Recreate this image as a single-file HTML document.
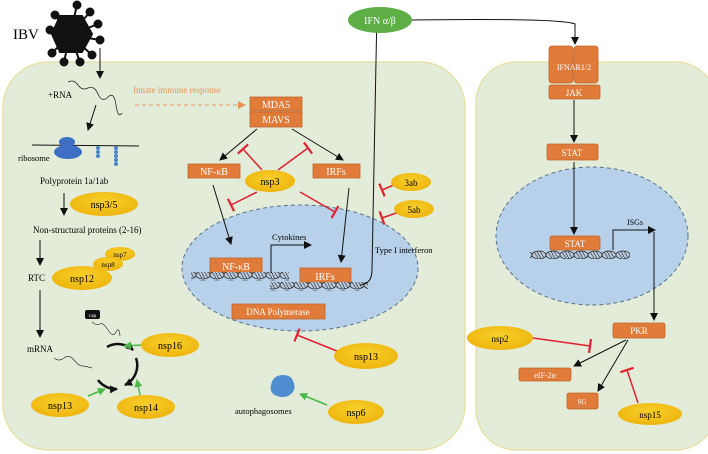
<!DOCTYPE html>
<html><head><meta charset="utf-8"><style>
html,body{margin:0;padding:0;background:#fff;}
svg{display:block;font-family:"Liberation Serif",serif;}
</style></head><body>
<svg width="708" height="454" viewBox="0 0 708 454" xmlns="http://www.w3.org/2000/svg">
<defs>
<marker id="ab" markerWidth="8" markerHeight="8" refX="7" refY="4" orient="auto" markerUnits="userSpaceOnUse"><path d="M0,0 L8,4 L0,8 z" fill="#111"/></marker>
<marker id="ag" markerWidth="8" markerHeight="8" refX="7" refY="4" orient="auto" markerUnits="userSpaceOnUse"><path d="M0,0 L8,4 L0,8 z" fill="#4cb848"/></marker>
<marker id="ao" markerWidth="8" markerHeight="8" refX="7" refY="4" orient="auto" markerUnits="userSpaceOnUse"><path d="M0,0 L8,4 L0,8 z" fill="#e8935a"/></marker>
<marker id="tr" markerWidth="4" markerHeight="14" refX="2" refY="7" orient="auto" markerUnits="userSpaceOnUse"><path d="M2,0 L2,14" stroke="#e02030" stroke-width="2.2"/></marker>
<radialGradient id="yg" cx="50%" cy="40%" r="60%"><stop offset="0" stop-color="#f8cf2a"/><stop offset="1" stop-color="#eeb50e"/></radialGradient>
<pattern id="dna" width="14" height="10" patternUnits="userSpaceOnUse"><ellipse cx="7" cy="5" rx="7" ry="4" fill="#b8c8dc" stroke="#222" stroke-width="0.8"/><path d="M2,2 L6,8 M5,1 L9,9 M8,1 L12,8" stroke="#222" stroke-width="0.6"/></pattern>
</defs>
<!-- cells -->
<rect x="3" y="62" width="462" height="388" rx="45" fill="#e3ecd9" stroke="#e8dc9e" stroke-width="1.2"/>
<rect x="476" y="62" width="240" height="388" rx="40" fill="#e3ecd9" stroke="#e8dc9e" stroke-width="1.2"/>
<!-- nuclei -->
<ellipse cx="300" cy="268" rx="118" ry="63" fill="#b7d1ea" stroke="#5a7189" stroke-width="1" stroke-dasharray="4,3"/>
<ellipse cx="592" cy="236" rx="96" ry="69" fill="#b7d1ea" stroke="#5a7189" stroke-width="1" stroke-dasharray="4,3"/>
<!-- virus -->
<g stroke="#111" stroke-width="2" fill="#111">
<line x1="70" y1="35" x2="77" y2="5"/><line x1="70" y1="35" x2="90" y2="12"/><line x1="70" y1="35" x2="98" y2="24"/><line x1="70" y1="35" x2="100" y2="40"/><line x1="70" y1="35" x2="92" y2="55"/><line x1="70" y1="35" x2="80" y2="62"/><line x1="70" y1="35" x2="64" y2="62"/><line x1="70" y1="35" x2="52" y2="53"/><line x1="70" y1="35" x2="50" y2="30"/><line x1="70" y1="35" x2="55" y2="15"/>
<circle cx="77" cy="5" r="3.5"/><circle cx="90" cy="12" r="3.5"/><circle cx="98" cy="24" r="3.5"/><circle cx="100" cy="40" r="3.5"/><circle cx="92" cy="55" r="3.5"/><circle cx="80" cy="62" r="3.5"/><circle cx="64" cy="62" r="3.5"/><circle cx="52" cy="53" r="3.5"/><circle cx="50" cy="30" r="3.5"/><circle cx="55" cy="15" r="3.5"/>
<polygon points="60,16 82,16 92,34 82,52 60,52 52,34"/>
</g>
<text x="13" y="39" font-size="15">IBV</text>
<line x1="100" y1="48" x2="100" y2="78" stroke="#111" marker-end="url(#ab)"/>
<text x="48" y="98" font-size="9">+RNA</text>
<path d="M68,82 q6,-3 10,3 t10,3 t10,6 t10,3 t8,8 t6,8" fill="none" stroke="#222" stroke-width="0.8"/>
<line x1="96" y1="105" x2="88" y2="130" stroke="#111" marker-end="url(#ab)"/>
<line x1="32" y1="145" x2="139" y2="146" stroke="#111"/>
<ellipse cx="67" cy="142" rx="8" ry="5" fill="#3f6fc4"/><ellipse cx="68" cy="152" rx="14" ry="7" fill="#3f6fc4"/>
<g fill="#4a86c8"><circle cx="98" cy="148" r="2"/><circle cx="98" cy="152" r="2"/><circle cx="98" cy="156" r="2"/><circle cx="116" cy="148" r="2"/><circle cx="116" cy="152" r="2"/><circle cx="116" cy="156" r="2"/><circle cx="116" cy="160" r="2"/><circle cx="116" cy="164" r="2"/></g>
<text x="18" y="161" font-size="8.5">ribosome</text>
<text x="40" y="184" font-size="9">Polyprotein 1a/1ab</text>
<line x1="64" y1="193" x2="64" y2="215" stroke="#111" marker-end="url(#ab)"/>
<ellipse cx="104" cy="204" rx="34" ry="12" fill="url(#yg)"/><text x="104" y="208" font-size="10" text-anchor="middle">nsp3/5</text>
<text x="33" y="233" font-size="9">Non-structural proteins (2-16)</text>
<line x1="40" y1="240" x2="40" y2="265" stroke="#111" marker-end="url(#ab)"/>
<text x="28" y="281" font-size="9">RTC</text>
<ellipse cx="120" cy="254" rx="15" ry="7" fill="url(#yg)"/><text x="120" y="257" font-size="7" text-anchor="middle">nsp7</text>
<ellipse cx="108" cy="264" rx="15" ry="7" fill="url(#yg)"/><text x="108" y="267" font-size="7" text-anchor="middle">nsp8</text>
<ellipse cx="82" cy="278" rx="30" ry="12" fill="url(#yg)"/><text x="82" y="282" font-size="10" text-anchor="middle">nsp12</text>
<line x1="40" y1="290" x2="40" y2="337" stroke="#111" marker-end="url(#ab)"/>
<text x="27" y="352" font-size="9">mRNA</text>
<path d="M54,358 q5,4 10,0 t10,2 t8,6 t10,2" fill="none" stroke="#333" stroke-width="0.7"/>
<rect x="85" y="310" width="15" height="9" rx="2" fill="#111"/><text x="92.5" y="317" font-size="5.5" fill="#fff" text-anchor="middle">cap</text>
<path d="M92,322 q5,4 8,2 t8,6 t8,2 t4,4" fill="none" stroke="#333" stroke-width="0.7"/>
<g fill="none" stroke="#111" stroke-width="2.5">
<path d="M107,347 A22,22 0 0 1 133,350" marker-end="url(#ab)"/>
<path d="M136,358 A22,22 0 0 1 125,385" marker-end="url(#ab)"/>
<path d="M98,380 A22,22 0 0 0 117,389" marker-end="url(#ab)"/>
</g>
<line x1="142" y1="345" x2="124" y2="346" stroke="#4cb848" stroke-width="1.5" marker-end="url(#ag)"/>
<line x1="88" y1="396" x2="105" y2="389" stroke="#4cb848" stroke-width="1.5" marker-end="url(#ag)"/>
<line x1="140" y1="395" x2="137" y2="380" stroke="#4cb848" stroke-width="1.5" marker-end="url(#ag)"/>
<ellipse cx="170" cy="345" rx="29" ry="12" fill="url(#yg)"/><text x="170" y="349" font-size="10" text-anchor="middle">nsp16</text>
<ellipse cx="60" cy="405" rx="29" ry="12" fill="url(#yg)"/><text x="60" y="409" font-size="10" text-anchor="middle">nsp13</text>
<ellipse cx="146" cy="407" rx="29" ry="12" fill="url(#yg)"/><text x="146" y="411" font-size="10" text-anchor="middle">nsp14</text>
<!-- innate -->
<text x="133" y="93" font-size="9" fill="#e8935a">Innate immune response</text>
<line x1="135" y1="105" x2="245" y2="105" stroke="#e8935a" stroke-dasharray="4,3" marker-end="url(#ao)"/>
<g fill="#e07b39" stroke="#c0662a" stroke-width="0.8">
<rect x="250" y="97" width="52" height="14"/><rect x="250" y="112" width="52" height="15"/>
<rect x="188" y="164" width="52" height="14"/><rect x="313" y="164" width="47" height="14"/>
<rect x="210" y="258" width="52" height="15"/><rect x="300" y="268" width="51" height="15"/>
<rect x="232" y="304" width="93" height="15"/>
<rect x="549" y="46" width="24" height="37" rx="3"/><rect x="574" y="46" width="24" height="37" rx="3"/>
<rect x="549" y="85" width="51" height="14" rx="2"/>
<rect x="547" y="144" width="51" height="16" rx="2"/>
<rect x="550" y="236" width="50" height="14" rx="2"/>
<rect x="613" y="323" width="52" height="15" rx="2"/>
<rect x="519" y="368" width="52" height="13" rx="2"/>
<rect x="567" y="393" width="31" height="16" rx="2"/>
</g>
<g fill="#fff" font-size="10" text-anchor="middle">
<text x="276" y="108">MDA5</text><text x="276" y="123">MAVS</text>
<text x="214" y="175">NF-κB</text><text x="336" y="175">IRFs</text>
<text x="236" y="270">NF-κB</text><text x="325" y="280">IRFs</text>
<text x="278" y="315" font-size="9">DNA Polymerase</text>
<text x="574" y="70" font-size="8">IFNAR1/2</text>
<text x="574" y="96" font-size="9">JAK</text>
<text x="572" y="156" font-size="9">STAT</text>
<text x="575" y="247" font-size="9">STAT</text>
<text x="639" y="334" font-size="9">PKR</text>
<text x="545" y="378" font-size="8">eIF-2α</text>
<text x="582" y="404" font-size="7">SG</text>
</g>
<line x1="257" y1="129" x2="220" y2="160" stroke="#111" marker-end="url(#ab)"/>
<line x1="292" y1="129" x2="343" y2="160" stroke="#111" marker-end="url(#ab)"/>
<ellipse cx="270" cy="181" rx="25" ry="11" fill="url(#yg)"/><text x="270" y="185" font-size="10" text-anchor="middle">nsp3</text>
<g stroke="#e02030" stroke-width="1.5" fill="none">
<line x1="262" y1="170" x2="243" y2="149" marker-end="url(#tr)"/>
<line x1="278" y1="170" x2="308" y2="148" marker-end="url(#tr)"/>
<line x1="257" y1="192" x2="231" y2="205" marker-end="url(#tr)"/>
<line x1="300" y1="192" x2="335" y2="212" marker-end="url(#tr)"/>
<line x1="396" y1="184" x2="382" y2="190" marker-end="url(#tr)"/>
<line x1="399" y1="212" x2="382" y2="218" marker-end="url(#tr)"/>
<line x1="337" y1="351" x2="297" y2="335" marker-end="url(#tr)"/>
<line x1="533" y1="338" x2="590" y2="346" marker-end="url(#tr)"/>
<line x1="638" y1="403" x2="627" y2="370" marker-end="url(#tr)"/>
</g>
<line x1="213" y1="185" x2="231" y2="244" stroke="#111" marker-end="url(#ab)"/>
<line x1="349" y1="188" x2="341" y2="262" stroke="#111" marker-end="url(#ab)"/>
<ellipse cx="411" cy="182" rx="20" ry="9" fill="url(#yg)"/><text x="411" y="186" font-size="9" text-anchor="middle">3ab</text>
<ellipse cx="414" cy="209" rx="20" ry="9" fill="url(#yg)"/><text x="414" y="213" font-size="9" text-anchor="middle">5ab</text>
<text x="375" y="253" font-size="8.5">Type I interferon</text>
<!-- DNA -->
<rect x="191" y="272" width="98" height="9" fill="url(#dna)"/>
<rect x="270" y="282" width="98" height="9" fill="url(#dna)"/>
<rect x="530" y="250" width="100" height="9" fill="url(#dna)"/>
<path d="M271,273 L271,245 L311,245" fill="none" stroke="#111" marker-end="url(#ab)"/>
<text x="272" y="240" font-size="8.5">Cytokines</text>
<path d="M360,285 Q372,284 372,270 L377,9" fill="none" stroke="#111" marker-end="url(#ab)"/>
<ellipse cx="380" cy="20" rx="32" ry="13" fill="#5cae45"/><text x="380" y="24" font-size="10" fill="#fff" text-anchor="middle">IFN α/β</text>
<path d="M412,20 Q560,18 575,24 L575,44" fill="none" stroke="#111" marker-end="url(#ab)"/>
<line x1="574" y1="100" x2="574" y2="142" stroke="#111" marker-end="url(#ab)"/>
<line x1="574" y1="162" x2="574" y2="234" stroke="#111" marker-end="url(#ab)"/>
<path d="M613,250 L613,230 L655,230" fill="none" stroke="#111" marker-end="url(#ab)"/>
<text x="627" y="225" font-size="8">ISGs</text>
<line x1="654" y1="232" x2="654" y2="320" stroke="#111" marker-end="url(#ab)"/>
<line x1="626" y1="340" x2="574" y2="366" stroke="#111" marker-end="url(#ab)"/>
<line x1="628" y1="340" x2="598" y2="391" stroke="#111" marker-end="url(#ab)"/>
<ellipse cx="500" cy="338" rx="33" ry="12" fill="url(#yg)"/><text x="500" y="342" font-size="9" text-anchor="middle">nsp2</text>
<ellipse cx="650" cy="414" rx="32" ry="11" fill="url(#yg)"/><text x="650" y="418" font-size="9" text-anchor="middle">nsp15</text>
<ellipse cx="366" cy="356" rx="32" ry="13" fill="url(#yg)"/><text x="366" y="360" font-size="10" text-anchor="middle">nsp13</text>
<ellipse cx="356" cy="412" rx="28" ry="12" fill="url(#yg)"/><text x="356" y="416" font-size="10" text-anchor="middle">nsp6</text>
<path d="M271,385 q2,-10 12,-10 q8,0 10,6 q4,8 -2,13 q-6,5 -14,2 q-8,-3 -6,-11z" fill="#4e8ed0"/>
<line x1="327" y1="405" x2="300" y2="394" stroke="#4cb848" stroke-width="1.5" marker-end="url(#ag)"/>
<text x="235" y="414" font-size="8.5">autophagosomes</text>
</svg>
</body></html>
